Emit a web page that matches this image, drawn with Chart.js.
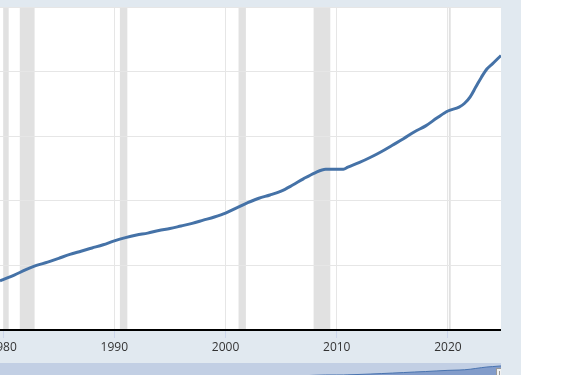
<!DOCTYPE html>
<html>
<head>
<meta charset="utf-8">
<script src="https://cdn.jsdelivr.net/npm/chart.js@4.4.1/dist/chart.umd.min.js"></script>
<style>
  html, body { margin: 0; padding: 0; background: #ffffff; overflow: hidden; }
  #frame { position: absolute; left: 0; top: 0; width: 521px; height: 375px; background: #e1e9f0; overflow: hidden; }
  #main-wrap { position: absolute; left: -60px; top: 0; width: 561px; height: 363px; }
  #nav-wrap { position: absolute; left: 0; top: 363px; width: 501px; height: 40px; }
</style>
</head>
<body>
<div id="frame">
  <div id="main-wrap"><canvas id="main-chart"></canvas></div>
  <div id="nav-wrap"><canvas id="nav-chart"></canvas></div>
</div>
<script>
// series values (index level by year)
const years = [1979.72, 1980, 1981, 1982, 1983, 1984, 1985, 1986, 1987, 1988, 1989,
  1990, 1991, 1992, 1993, 1994, 1995, 1996, 1997, 1998, 1999,
  2000, 2001, 2002, 2003, 2004, 2005, 2006, 2007, 2008, 2009,
  2010, 2010.6, 2011, 2012, 2013, 2014, 2015, 2016, 2017, 2018, 2019,
  2020, 2021, 2021.5, 2022, 2022.5, 2023, 2023.5, 2024, 2024.77];
const indexValues = [76, 78, 85, 93, 100, 105, 111, 117, 122, 127, 132,
  138, 143, 147, 150, 154, 157, 161, 165, 170, 175,
  181, 189, 197, 204, 209, 215, 224, 234, 243, 249,
  249, 249, 252, 259, 267, 276, 286, 296, 307, 316, 328,
  339, 345, 351, 361, 376, 391, 404, 412, 425];

// shaded recessions
const recessionStarts = [1980.0, 1981.5, 1990.5, 2001.17, 2007.92, 2020.08];
const recessionEnds   = [1980.5, 1982.83, 1991.17, 2001.83, 2009.42, 2020.25];

// axis ticks
const xTickYears = [1980, 1990, 2000, 2010, 2020];
const yTickValues = [0, 100, 200, 300, 400, 500];

const points = years.map((yr, i) => ({ x: yr, y: indexValues[i] }));
const xMin = years[0];
const xMax = years[years.length - 1];

// white plot area + recession bands, drawn under the grid
const plotBackground = {
  id: 'plotBackground',
  beforeDraw(chart) {
    const { ctx, chartArea: a, scales } = chart;
    ctx.save();
    ctx.fillStyle = '#ffffff';
    ctx.fillRect(a.left, a.top, a.right - a.left, a.bottom - a.top);
    ctx.fillStyle = '#e1e1e1';
    recessionStarts.forEach((s, i) => {
      const x1 = Math.max(scales.x.getPixelForValue(s), a.left);
      const x2 = Math.min(scales.x.getPixelForValue(recessionEnds[i]), a.right);
      if (x2 > x1) ctx.fillRect(x1, a.top, x2 - x1, a.bottom - a.top);
    });
    ctx.restore();
  }
};

new Chart(document.getElementById('main-chart'), {
  type: 'line',
  data: {
    datasets: [{
      data: points,
      borderColor: '#4572a7',
      borderWidth: 3,
      pointRadius: 0,
      cubicInterpolationMode: 'monotone',
      fill: false
    }]
  },
  options: {
    responsive: true,
    maintainAspectRatio: false,
    animation: false,
    layout: { padding: { top: 7, right: 0, left: 0, bottom: 0 } },
    plugins: { legend: { display: false }, tooltip: { enabled: false } },
    scales: {
      x: {
        type: 'linear',
        min: xMin,
        max: xMax,
        afterBuildTicks: scale => { scale.ticks = xTickYears.map(v => ({ value: v })); },
        afterFit: scale => { scale.height = 33; },
        grid: { color: '#e6e6e6', tickColor: '#ccd6eb', tickLength: 8 },
        border: { display: true, color: '#000000', width: 2 },
        ticks: {
          padding: 2,
          color: '#333333',
          maxRotation: 0,
          font: { family: "'Open Sans', sans-serif", size: 12 },
          callback: v => String(v)
        }
      },
      y: {
        min: 0,
        max: 500,
        afterBuildTicks: scale => { scale.ticks = yTickValues.map(v => ({ value: v })); },
        afterFit: scale => { scale.width = 60; },
        grid: { color: '#e6e6e6', drawTicks: false },
        border: { display: false },
        ticks: { display: false }
      }
    }
  },
  plugins: [plotBackground]
});

// navigator strip along the bottom
const navBackground = {
  id: 'navBackground',
  beforeDraw(chart) {
    const { ctx, width, height } = chart;
    ctx.save();
    ctx.fillStyle = '#c2cfe4';
    ctx.fillRect(0, 0, width, height);
    ctx.restore();
  },
  afterDraw(chart) {
    // right-hand handle
    const { ctx, scales } = chart;
    const hx = Math.round(scales.x.getPixelForValue(xMax));
    ctx.save();
    ctx.fillStyle = '#f2f2f2';
    ctx.strokeStyle = '#999999';
    ctx.lineWidth = 1;
    ctx.fillRect(hx - 4.5, 5.5, 8, 14);
    ctx.strokeRect(hx - 4.5, 5.5, 8, 14);
    ctx.beginPath();
    ctx.moveTo(hx - 1.5, 8); ctx.lineTo(hx - 1.5, 16);
    ctx.moveTo(hx + 0.5, 8); ctx.lineTo(hx + 0.5, 16);
    ctx.stroke();
    ctx.restore();
  }
};

new Chart(document.getElementById('nav-chart'), {
  type: 'line',
  data: {
    datasets: [{
      data: points,
      borderColor: '#4a74b0',
      borderWidth: 1,
      backgroundColor: '#829cca',
      pointRadius: 0,
      fill: 'start'
    }]
  },
  options: {
    responsive: true,
    maintainAspectRatio: false,
    animation: false,
    layout: { padding: 0 },
    plugins: { legend: { display: false }, tooltip: { enabled: false } },
    scales: {
      x: { type: 'linear', min: xMin, max: xMax, display: false },
      y: { min: -296, max: 482, display: false }
    }
  },
  plugins: [navBackground]
});
</script>
</body>
</html>
